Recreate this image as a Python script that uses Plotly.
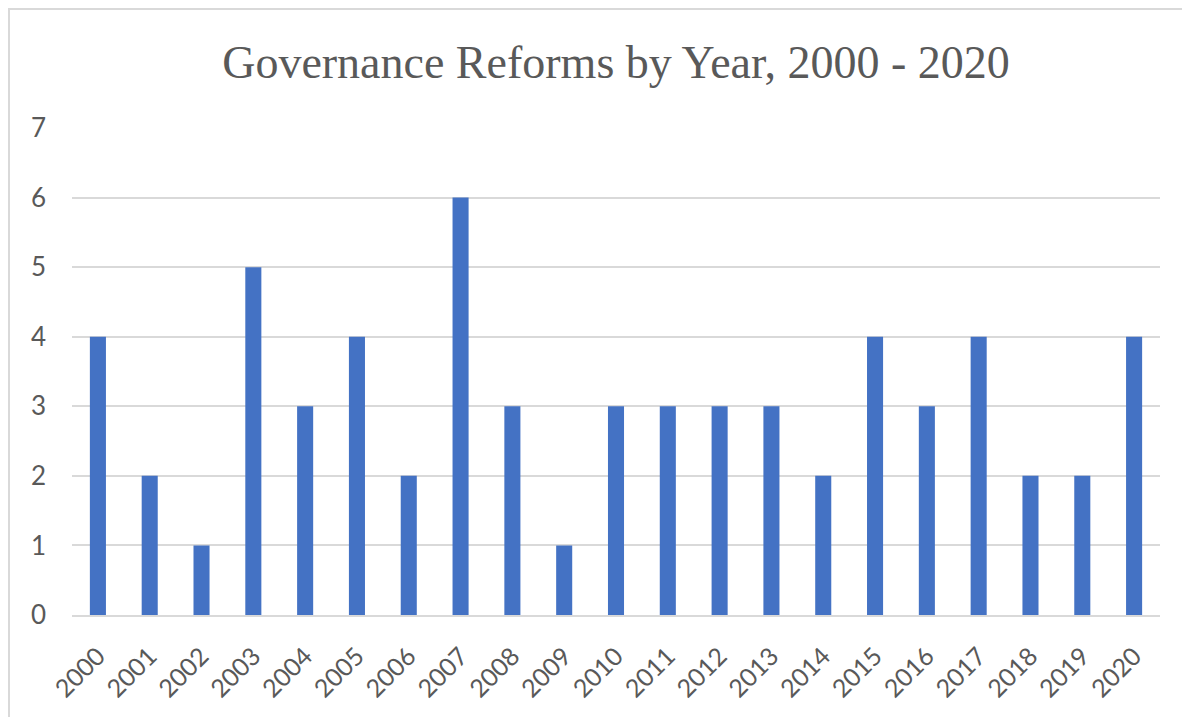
import plotly.graph_objects as go

years = [str(y) for y in range(2000, 2021)]
reforms = [4, 2, 1, 5, 3, 4, 2, 6, 3, 1, 3, 3, 3, 3, 2, 4, 3, 4, 2, 2, 4]
y_ticks = [0, 1, 2, 3, 4, 5, 6, 7]

W, H = 1190, 717
L, R, T, B = 64, 38, 120, 110
pw, ph = W - L - R, H - T - B

fig = go.Figure(go.Bar(x=years, y=reforms, marker=dict(color="#4472C4", line=dict(width=0)), width=0.31))

fig.update_layout(
    width=W, height=H,
    paper_bgcolor="white", plot_bgcolor="white",
    margin=dict(l=L, r=R, t=T, b=B),
    title=dict(text="Governance Reforms by Year, 2000 - 2020", x=(L + pw / 2) / W, xanchor="center",
               y=1 - 54 / H, yanchor="middle",
               font=dict(family="Liberation Serif", size=46, color="#595959")),
    xaxis=dict(type="category", tickangle=-45, showgrid=False, showline=True, linecolor="#D9D9D9",
               linewidth=1.5, ticks="", ticklabelstandoff=15,
               tickfont=dict(family="Lato", size=25, color="#595959")),
    yaxis=dict(range=[0, 7], tickvals=y_ticks, showgrid=True, gridcolor="#D9D9D9", gridwidth=1.5,
               zeroline=False, ticks="", ticklabelstandoff=25,
               tickfont=dict(family="Lato", size=26, color="#595959")),
    showlegend=False,
    shapes=[dict(type="rect", xref="paper", yref="paper", x0=-(L - 1) / pw, x1=1 + (R + 20) / pw,
                 y0=-(B + 20) / ph, y1=1 + (T - 1) / ph,
                 line=dict(color="#D9D9D9", width=2), fillcolor="rgba(0,0,0,0)", layer="below")],
)

fig.write_html("out.html")
